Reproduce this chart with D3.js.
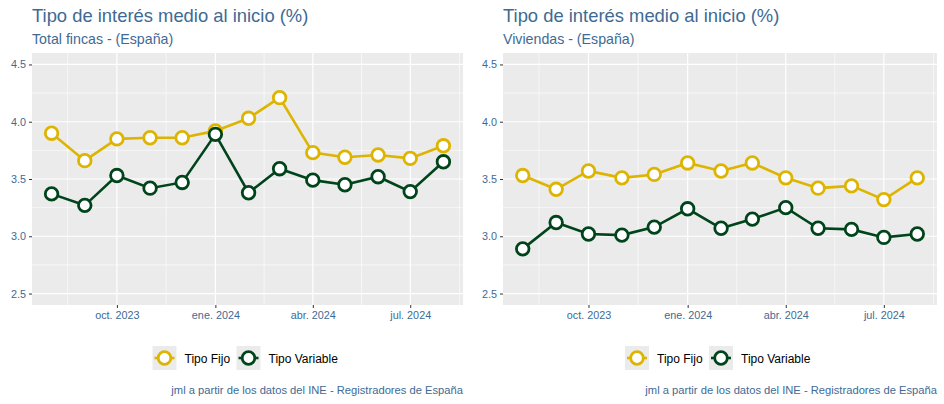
<!DOCTYPE html>
<html>
<head>
<meta charset="utf-8">
<script src="https://cdn.jsdelivr.net/npm/d3@7"></script>
<style>
  body { margin: 0; background: #fff; }
  svg { font-family: "Liberation Sans", Arial, sans-serif; }
</style>
</head>
<body>
<svg id="chart" width="944" height="404"></svg>
<script>
// meses (día 1 de cada mes)
const meses = ["2023-08-01","2023-09-01","2023-10-01","2023-11-01","2023-12-01","2024-01-01",
  "2024-02-01","2024-03-01","2024-04-01","2024-05-01","2024-06-01","2024-07-01","2024-08-01"]

// Total fincas
const fincasFijo = [3.90,3.66,3.85,3.86,3.86,3.92,4.03,4.21,3.73,3.69,3.71,3.68,3.79]
const fincasVariable = [3.37,3.27,3.53,3.42,3.47,3.89,3.38,3.59,3.49,3.45,3.52,3.39,3.65]

// Viviendas
const viviendasFijo = [3.53,3.41,3.57,3.51,3.54,3.64,3.57,3.64,3.51,3.42,3.44,3.32,3.51]
const viviendasVariable = [2.89,3.12,3.02,3.01,3.08,3.24,3.07,3.15,3.25,3.07,3.06,2.99,3.02]

const yTicks = [2.5,3.0,3.5,4.0,4.5]
const xTicks = ["2023-10-01","2024-01-01","2024-04-01","2024-07-01"]
const xTickLabels = ["oct. 2023","ene. 2024","abr. 2024","jul. 2024"]
const series = ["Tipo Fijo","Tipo Variable"]

const colorFijo = "#DDB400"
const colorVariable = "#00441B"
const textColor = "#3E6A94"

const parse = d3.timeParse("%Y-%m-%d")
const fechas = meses.map(parse)

const svg = d3.select("#chart")

function panel(x0, x1, subtitle, fijo, variable) {
  const top = 53, bottom = 305
  const g = svg.append("g")

  // fechas con 5% de expansión
  const ext = d3.extent(fechas)
  const span = ext[1] - ext[0]
  const x = d3.scaleTime()
    .domain([new Date(+ext[0] - span * 0.05), new Date(+ext[1] + span * 0.05)])
    .range([x0, x1])
  const y = d3.scaleLinear().domain([2.4, 4.6]).range([bottom, top])

  g.append("rect")
    .attr("x", x0).attr("y", top)
    .attr("width", x1 - x0).attr("height", bottom - top)
    .attr("fill", "#EBEBEB")

  // rejilla menor
  const majors = xTicks.map(parse)
  const minorX = []
  for (let i = -1; i < majors.length; i++) {
    const a = i < 0 ? d3.timeMonth.offset(majors[0], -3) : majors[i]
    const b = i < 0 ? majors[0] : (i + 1 < majors.length ? majors[i + 1] : d3.timeMonth.offset(majors[i], 3))
    minorX.push(new Date((+a + +b) / 2))
  }
  g.selectAll(".minx").data(minorX.filter(d => x(d) >= x0 && x(d) <= x1)).enter().append("line")
    .attr("x1", d => x(d)).attr("x2", d => x(d))
    .attr("y1", top).attr("y2", bottom)
    .attr("stroke", "#fff").attr("stroke-width", 0.6)
  g.selectAll(".miny").data([2.75,3.25,3.75,4.25]).enter().append("line")
    .attr("x1", x0).attr("x2", x1)
    .attr("y1", d => y(d)).attr("y2", d => y(d))
    .attr("stroke", "#fff").attr("stroke-width", 0.6)

  // rejilla mayor
  g.selectAll(".majx").data(majors).enter().append("line")
    .attr("x1", d => x(d)).attr("x2", d => x(d))
    .attr("y1", top).attr("y2", bottom)
    .attr("stroke", "#fff").attr("stroke-width", 1.2)
  g.selectAll(".majy").data(yTicks).enter().append("line")
    .attr("x1", x0).attr("x2", x1)
    .attr("y1", d => y(d)).attr("y2", d => y(d))
    .attr("stroke", "#fff").attr("stroke-width", 1.2)

  // ejes
  const xAxis = d3.axisBottom(x)
    .tickValues(majors)
    .tickFormat((d, i) => xTickLabels[i])
    .tickSize(3).tickPadding(3)
  const gx = g.append("g").attr("transform", "translate(0," + bottom + ")").call(xAxis)
  gx.select(".domain").remove()
  gx.selectAll("line").attr("stroke", "#333")
  gx.selectAll("text").attr("fill", textColor).style("font-size", "10.8px")

  const yAxis = d3.axisLeft(y)
    .tickValues(yTicks)
    .tickFormat(d3.format(".1f"))
    .tickSize(3).tickPadding(3)
  const gy = g.append("g").attr("transform", "translate(" + x0 + ",0)").call(yAxis)
  gy.select(".domain").remove()
  gy.selectAll("line").attr("stroke", "#333")
  gy.selectAll("text").attr("fill", textColor).style("font-size", "10.8px")

  // series
  const line = d3.line().x((d, i) => x(fechas[i])).y(d => y(d))
  const data = [{v: fijo, c: colorFijo}, {v: variable, c: colorVariable}]
  data.forEach(s => {
    g.append("path").datum(s.v)
      .attr("d", line).attr("fill", "none")
      .attr("stroke", s.c).attr("stroke-width", 2.6)
    g.selectAll(null).data(s.v).enter().append("circle")
      .attr("cx", (d, i) => x(fechas[i])).attr("cy", d => y(d))
      .attr("r", 6.3).attr("fill", "#fff")
      .attr("stroke", s.c).attr("stroke-width", 2.8)
  })

  // títulos
  g.append("text").attr("x", x0).attr("y", 22)
    .attr("fill", textColor).style("font-size", "18.4px")
    .text("Tipo de interés medio al inicio (%)")
  g.append("text").attr("x", x0).attr("y", 44)
    .attr("fill", textColor).style("font-size", "14.2px")
    .text(subtitle)

  // leyenda
  const cx = (x0 + x1) / 2
  const legend = g.append("g").attr("transform", "translate(" + (cx - 95) + ",346)")
  const keyX = [0, 84]
  series.forEach((name, i) => {
    const k = legend.append("g").attr("transform", "translate(" + keyX[i] + ",0)")
    k.append("rect").attr("width", 24).attr("height", 24).attr("fill", "#EBEBEB")
    const c = i === 0 ? colorFijo : colorVariable
    k.append("line").attr("x1", 2).attr("x2", 22).attr("y1", 12).attr("y2", 12)
      .attr("stroke", c).attr("stroke-width", 2.6)
    k.append("circle").attr("cx", 12).attr("cy", 12).attr("r", 6.3)
      .attr("fill", "#fff").attr("stroke", c).attr("stroke-width", 2.8)
    k.append("text").attr("x", 32).attr("y", 16.5)
      .attr("fill", "#000").style("font-size", "12px").text(name)
  })

  // fuente
  g.append("text").attr("x", x1).attr("y", 394)
    .attr("text-anchor", "end")
    .attr("fill", textColor).style("font-size", "11.2px")
    .text("jml a partir de los datos del INE - Registradores de España")
}

panel(32, 463, "Total fincas - (España)", fincasFijo, fincasVariable)
panel(503, 937, "Viviendas - (España)", viviendasFijo, viviendasVariable)
</script>
</body>
</html>
